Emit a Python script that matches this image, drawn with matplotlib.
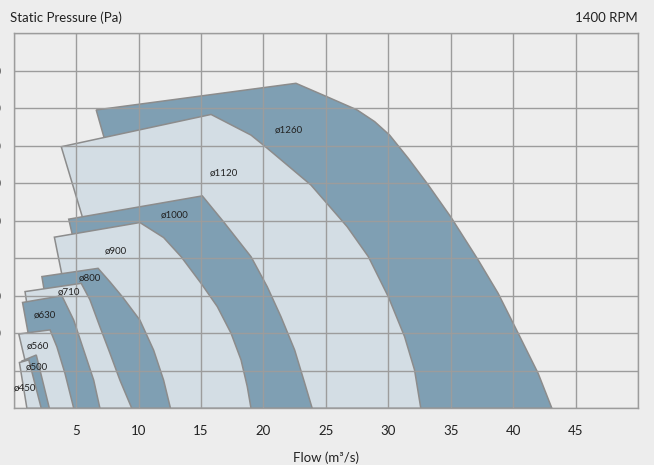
import matplotlib
matplotlib.use("Agg")
import matplotlib.pyplot as plt
from matplotlib.patches import Polygon

plt.rcParams['font.family'] = ['Lato', 'DejaVu Sans']

# fan sizes, drawn largest first so the small ones sit on top
sizes = ['ø1260', 'ø1120', 'ø1000', 'ø900', 'ø800', 'ø710', 'ø630', 'ø560', 'ø500', 'ø450']
shade = ['dark', 'light', 'dark', 'light', 'dark', 'light', 'dark', 'light', 'dark', 'light']

# outline of each working area: flow (m3/s), pressure (Pa)
flow = {
    'ø1260': [13.4, 6.6, 22.6, 25.1, 27.5, 28.9, 30.1, 31.6, 33.2, 35.0, 37.2, 38.8, 40.4, 42.0, 43.1],
    'ø1120': [10.1, 3.8, 15.8, 19.0, 20.3, 23.8, 26.7, 28.4, 30.0, 31.3, 32.1, 32.6],
    'ø1000': [7.9, 4.4, 15.1, 16.8, 19.0, 20.3, 21.4, 22.5, 23.3, 23.9],
    'ø900': [6.0, 3.25, 10.1, 12.0, 13.4, 15.0, 16.3, 17.4, 18.2, 18.7, 19.0],
    'ø800': [4.0, 2.25, 6.75, 7.7, 8.7, 10.1, 11.2, 12.0, 12.55],
    'ø710': [2.3, 0.9, 5.4, 6.1, 6.9, 7.7, 8.5, 9.45],
    'ø630': [2.25, 0.7, 3.85, 4.8, 5.6, 6.4, 6.9],
    'ø560': [1.8, 0.4, 2.9, 3.45, 4.1, 4.8],
    'ø500': [1.3, 0.65, 1.8, 2.85],
    'ø450': [1.05, 0.45, 1.2, 2.2],
}
pressure = {
    'ø1260': [0, 795, 866, 830, 795, 764, 728, 666, 595, 510, 395, 306, 200, 93, 0],
    'ø1120': [0, 697, 783, 728, 693, 595, 484, 404, 297, 191, 102, 0],
    'ø1000': [0, 504, 566, 497, 404, 324, 244, 155, 67, 0],
    'ø900': [0, 456, 495, 455, 404, 333, 271, 200, 129, 58, 0],
    'ø800': [0, 351, 373, 337, 297, 235, 155, 75, 0],
    'ø710': [0, 311, 333, 289, 217, 147, 75, 0],
    'ø630': [0, 282, 300, 235, 155, 75, 0],
    'ø560': [0, 198, 209, 164, 93, 0],
    'ø500': [0, 126, 142, 0],
    'ø450': [0, 122, 129, 0],
}
label_x = [22.0, 16.8, 12.9, 8.2, 6.1, 4.4, 2.5, 1.95, 1.85, 0.9]
label_y = [741, 627, 515, 419, 347, 310, 249, 166, 110, 54]

xticks = [5, 10, 15, 20, 25, 30, 35, 40, 45]
yticks = [200, 300, 400, 500, 600, 700, 800, 900]

bg = '#ededed'
fills = {'dark': '#7f9fb3', 'light': '#d3dde4'}
edge = '#8c8c8c'

fig = plt.figure(figsize=(6.54, 4.65), dpi=100, facecolor=bg)
ax = fig.add_axes([0.0211, 0.1219, 0.9545, 0.8071])
ax.set_facecolor(bg)

for i, s in enumerate(sizes):
    pts = list(zip(flow[s], pressure[s]))
    ax.add_patch(Polygon(pts, closed=True, facecolor=fills[shade[i]],
                         edgecolor=edge, linewidth=1.1, zorder=1))
    ax.text(label_x[i], label_y[i], s, fontsize=7, color='#222222',
            ha='center', va='center', zorder=3)

ax.set_xlim(0, 50)
ax.set_ylim(0, 1000)
ax.set_xticks(range(0, 51, 5))
ax.set_xticklabels([''] + [str(v) for v in xticks] + [''])
ax.set_yticks(range(0, 1001, 100))
ax.set_yticklabels(['', ''] + [str(v) for v in yticks] + [''])
ax.tick_params(axis='both', length=0, labelsize=9.5, colors='#222222')
ax.tick_params(axis='x', pad=12)
ax.tick_params(axis='y', pad=9)
ax.grid(True, color='#9c9c9c', linewidth=1.0)
ax.set_axisbelow(False)
for sp in ax.spines.values():
    sp.set_color('#9c9c9c')
    sp.set_linewidth(1.0)

fig.text(0.0153, 0.961, 'Static Pressure (Pa)', fontsize=9.5, color='#222222', va='center')
fig.text(0.9755, 0.961, '1400 RPM', fontsize=9.5, color='#222222', va='center', ha='right')
fig.text(0.498, 0.015, 'Flow (m³/s)', fontsize=9.5, color='#222222', va='center', ha='center')

fig.savefig('out.png', dpi=100, facecolor=bg)
